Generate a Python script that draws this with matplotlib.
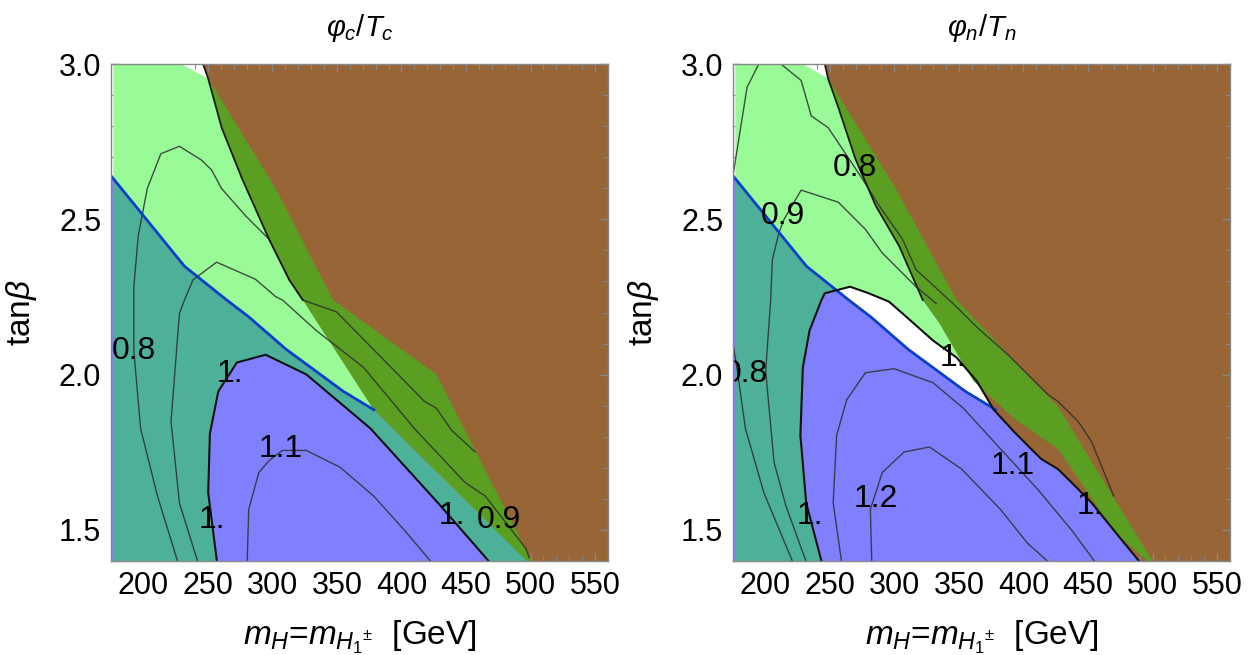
import matplotlib
matplotlib.use('Agg')
import matplotlib.pyplot as plt
from matplotlib.patches import Polygon
from matplotlib.ticker import MultipleLocator

plt.rcParams['font.family'] = ['Liberation Sans', 'DejaVu Sans']
plt.rcParams['mathtext.fontset'] = 'custom'
plt.rcParams['mathtext.rm'] = 'Liberation Sans'
plt.rcParams['mathtext.it'] = 'Liberation Sans:italic'

XLIM = (175, 560)
YLIM = (1.4, 3.0)

# blue line (same in both panels)
blue_x = [175.0, 197.9, 231.9, 264.7, 281.7, 310.5, 355.0, 378.5]
blue_y = [2.640, 2.523, 2.349, 2.240, 2.186, 2.082, 1.946, 1.887]

# ---------------- left panel: phi_c / T_c ----------------
L_brown_x = [246.3, 250.3, 302.6, 347.1, 427.0, 501.0]
L_brown_y = [3.0, 2.953, 2.599, 2.240, 2.001, 1.40]
L_dkg_x = [246.3, 250.3, 260.7, 276.4, 297.4, 313.1, 323.6, 378.5, 497.0]
L_dkg_y = [3.0, 2.953, 2.795, 2.632, 2.436, 2.305, 2.240, 1.887, 1.40]
L_green_top = 229.3
L_green_x = [250.3, 260.7, 276.4, 297.4, 313.1, 323.6, 378.5, 497.0]
L_green_y = [2.953, 2.795, 2.632, 2.436, 2.305, 2.240, 1.887, 1.40]
L_blue_x = [378.5, 497.0]
L_blue_y = [1.887, 1.40]
L_c10_x = [257.0, 250.3, 251.6, 258.1, 272.5, 294.8, 326.2, 375.9, 428.3, 467.5]
L_c10_y = [1.40, 1.620, 1.810, 1.946, 2.039, 2.064, 2.001, 1.827, 1.587, 1.40]
L_c08_x = [226.5, 211.0, 197.9, 192.7, 192.7, 196.1, 203.1, 213.6, 228.0, 245.0, 252.9,
           260.7, 279.1, 297.4, 313.1, 323.6, 349.7, 417.8, 427.0, 438.8, 457.1]
L_c08_y = [1.40, 1.609, 1.827, 2.077, 2.284, 2.447, 2.599, 2.711, 2.735, 2.691, 2.659,
           2.599, 2.512, 2.436, 2.305, 2.240, 2.202, 1.914, 1.892, 1.821, 1.751]
L_c09_x = [242.0, 228.0, 221.5, 228.0, 231.9, 238.5, 256.8, 286.9, 302.6, 307.9, 334.0,
           370.7, 409.9, 449.2, 464.9, 496.3, 499.0]
L_c09_y = [1.40, 1.587, 1.849, 2.197, 2.240, 2.305, 2.362, 2.307, 2.251, 2.240, 2.142,
           2.023, 1.827, 1.653, 1.609, 1.441, 1.41]
L_c11_x = [280.5, 281.7, 289.5, 297.4, 307.8, 326.2, 352.4, 378.5, 402.1, 422.5]
L_c11_y = [1.40, 1.566, 1.685, 1.723, 1.756, 1.756, 1.702, 1.609, 1.500, 1.40]
L_lab = ['0.8', '1.', '1.1', '1.', '1.', '0.9']
L_lab_x = [192.7, 267.3, 306.5, 252.9, 438.8, 475.4]
L_lab_y = [2.077, 2.001, 1.762, 1.533, 1.544, 1.533]

# ---------------- right panel: phi_n / T_n ----------------
R_brown_x = [246.1, 248.7, 301.1, 348.2, 426.7, 500.0]
R_brown_y = [3.0, 2.953, 2.599, 2.240, 1.897, 1.40]
R_dkg_x = [246.1, 248.7, 256.6, 269.6, 285.4, 303.7, 322.0, 335.1, 353.4, 361.3,
           392.7, 426.7, 471.2, 496.1]
R_dkg_y = [3.0, 2.953, 2.860, 2.697, 2.545, 2.414, 2.240, 2.164, 2.033, 1.979,
           1.859, 1.761, 1.490, 1.40]
R_green_top = 229.3
R_green_x = [248.7, 256.6, 269.6, 285.4, 303.7, 322.0, 335.1, 353.4, 363.9, 377.0,
             392.7, 413.6, 426.7, 437.2, 452.9, 473.9, 489.5]
R_green_y = [2.953, 2.860, 2.697, 2.545, 2.414, 2.240, 2.164, 2.033, 1.979, 1.887,
             1.816, 1.729, 1.696, 1.653, 1.587, 1.479, 1.40]
R_blue_x = [377.0, 392.7, 413.6, 426.7, 437.2, 452.9, 473.9, 489.5]
R_blue_y = [1.887, 1.816, 1.729, 1.696, 1.653, 1.587, 1.479, 1.40]
R_c10_x = [243.5, 231.7, 227.2, 229.1, 234.3, 243.5, 246.1, 265.7, 280.1, 295.8, 306.3,
           329.9, 348.2, 363.9, 377.0, 392.7, 413.6, 426.7, 437.2, 452.9, 473.9, 489.5]
R_c10_y = [1.40, 1.587, 1.805, 2.023, 2.142, 2.240, 2.262, 2.283, 2.262, 2.235, 2.197,
           2.110, 2.055, 1.979, 1.887, 1.816, 1.729, 1.696, 1.653, 1.587, 1.479, 1.40]
R_c08a_x = [221.0, 198.9, 184.6, 178.0, 173.0]
R_c08a_y = [1.40, 1.620, 1.827, 2.023, 2.15]
R_c08b_x = [174.0, 178.0, 185.9, 195.0]
R_c08b_y = [2.615, 2.719, 2.925, 3.0]
R_c08c_x = [212.1, 227.8, 235.6, 248.7, 259.2, 274.9, 288.0, 306.3, 316.8, 348.2,
            363.9, 387.5, 405.8, 418.9, 426.7, 442.4, 452.9, 469.9]
R_c08c_y = [3.0, 2.947, 2.833, 2.795, 2.730, 2.632, 2.545, 2.436, 2.338, 2.218,
            2.153, 2.066, 1.990, 1.936, 1.914, 1.849, 1.783, 1.609]
R_c09_x = [231.5, 216.0, 206.8, 200.3, 204.2, 205.5, 210.7, 214.7, 227.8, 256.6,
           277.5, 290.6, 316.8, 332.5]
R_c09_y = [1.40, 1.577, 1.718, 2.012, 2.240, 2.371, 2.458, 2.501, 2.594, 2.555,
           2.468, 2.392, 2.283, 2.229]
R_c11_x = [259.0, 252.6, 255.3, 263.1, 277.5, 299.8, 329.9, 353.4, 382.2, 411.0, 437.2, 455.0]
R_c11_y = [1.40, 1.587, 1.805, 1.919, 2.006, 2.019, 1.974, 1.892, 1.761, 1.631, 1.500, 1.40]
R_c12_x = [282.5, 281.4, 290.6, 307.6, 327.2, 352.1, 382.2, 403.2, 418.5]
R_c12_y = [1.40, 1.566, 1.685, 1.751, 1.767, 1.696, 1.566, 1.457, 1.40]
R_lab = ['0.8', '0.9', '0.8', '1.', '1.1', '1.2', '1.', '1.']
R_lab_x = [269.6, 213.4, 184.6, 345.6, 391.4, 285.4, 234.3, 451.6]
R_lab_y = [2.664, 2.512, 2.001, 2.055, 1.707, 1.598, 1.544, 1.577]

BROWN = '#976536'
DKGREEN = '#5a9f21'
PALEGREEN = '#98fb98'
TEAL = '#4db199'
PURPLE = '#8080ff'
BLUE = '#0a40c8'


def pts(xs, ys):
    return list(zip(xs, ys))


def draw_panel(ax, brown, dkg, green_top, green, blue_right, c10, thin, edge_n, labels, title):
    bx, by = brown
    dx, dy = dkg
    gx, gy = green

    # brown: everything right of the green region (dark green band is drawn over it)
    brown_pts = [(bx[0], 3.1), (bx[0], 3.0)] + pts(gx, gy) + [(gx[-1], 1.3), (600, 1.3), (600, 3.1)]
    ax.add_patch(Polygon(brown_pts, closed=True, fc=BROWN, ec='none', zorder=1))

    green_pts = [(176.8, 3.1), (green_top, 3.1), (green_top, 3.0)] + pts(gx, gy) + [(gx[-1], 1.3), (176.8, 1.3)]
    ax.add_patch(Polygon(green_pts, closed=True, fc=PALEGREEN, ec='none', zorder=2))
    green_clip = Polygon(green_pts, closed=True, transform=ax.transData)

    cx, cy = c10
    inner = pts(cx, cy) + [(cx[-1], 1.3), (cx[0], 1.3)]
    ax.add_patch(Polygon(inner, closed=True, fc='white', ec='none', zorder=3))

    rx, ry = blue_right
    blue_pts = [(170, blue_y[0])] + pts(blue_x, blue_y) + pts(rx, ry) + [(rx[-1], 1.3), (170, 1.3)]
    ax.add_patch(Polygon(blue_pts, closed=True, fc=PURPLE, ec='none', zorder=4))
    teal = Polygon(blue_pts, closed=True, fc=TEAL, ec='none', zorder=5)
    ax.add_patch(teal)
    teal.set_clip_path(green_clip)
    blue_clip = Polygon(blue_pts, closed=True, transform=ax.transData)
    purple = Polygon(inner, closed=True, fc=PURPLE, ec='none', zorder=6)
    ax.add_patch(purple)
    purple.set_clip_path(blue_clip)

    dk_pts = pts(dx, dy) + pts(bx[::-1], by[::-1])
    ax.add_patch(Polygon(dk_pts, closed=True, fc=DKGREEN, ec='none', zorder=7))

    # lines
    ax.plot(blue_x, blue_y, color=BLUE, lw=2.0, zorder=9, solid_joinstyle='round')
    ax.plot(dx[:edge_n], dy[:edge_n], color='#1a1a1a', lw=1.3, zorder=9)
    for lx, ly in thin:
        ax.plot(lx, ly, color='#2e2e2e', lw=1.0, alpha=0.85, zorder=8)
    ax.plot(cx, cy, color='#111111', lw=1.5, zorder=9)

    for t, x, y in zip(*labels):
        ax.text(x, y, t, fontsize=23, ha='center', va='center', zorder=10, clip_on=True)

    ax.set_xlim(*XLIM)
    ax.set_ylim(*YLIM)
    ax.xaxis.set_major_locator(MultipleLocator(50))
    ax.xaxis.set_minor_locator(MultipleLocator(10))
    ax.yaxis.set_major_locator(MultipleLocator(0.5))
    ax.yaxis.set_minor_locator(MultipleLocator(0.1))
    ax.tick_params(which='both', direction='in', top=True, right=True, color='#888888',
                   labelsize=22, pad=7)
    ax.tick_params(which='major', length=6, width=1)
    ax.tick_params(which='minor', length=3.5, width=0.8)
    for s in ax.spines.values():
        s.set_color('#888888')
        s.set_linewidth(1.0)
        s.set_zorder(11)
    ax.set_title(title, fontsize=21, pad=20)
    ax.set_xlabel(r'$m_H$=$m_{H_1{}^{\pm}}$  [GeV]', fontsize=24, labelpad=13)
    ax.set_ylabel(r'tan$\beta$', fontsize=24, labelpad=14)


fig = plt.figure(figsize=(12.55, 6.55), dpi=100)
ax1 = fig.add_axes([111 / 1255, 94 / 655, 497 / 1255, 497 / 655])
ax2 = fig.add_axes([733 / 1255, 94 / 655, 497 / 1255, 497 / 655])

draw_panel(ax1, (L_brown_x, L_brown_y), (L_dkg_x, L_dkg_y), L_green_top,
           (L_green_x, L_green_y), (L_blue_x, L_blue_y), (L_c10_x, L_c10_y),
           [(L_c08_x, L_c08_y), (L_c09_x, L_c09_y), (L_c11_x, L_c11_y)], 7,
           (L_lab, L_lab_x, L_lab_y), r'$\varphi_c/T_c$')
draw_panel(ax2, (R_brown_x, R_brown_y), (R_dkg_x, R_dkg_y), R_green_top,
           (R_green_x, R_green_y), (R_blue_x, R_blue_y), (R_c10_x, R_c10_y),
           [(R_c08a_x, R_c08a_y), (R_c08b_x, R_c08b_y), (R_c08c_x, R_c08c_y),
            (R_c09_x, R_c09_y), (R_c11_x, R_c11_y), (R_c12_x, R_c12_y)], 7,
           (R_lab, R_lab_x, R_lab_y), r'$\varphi_n/T_n$')

fig.savefig('out.png', dpi=100)
